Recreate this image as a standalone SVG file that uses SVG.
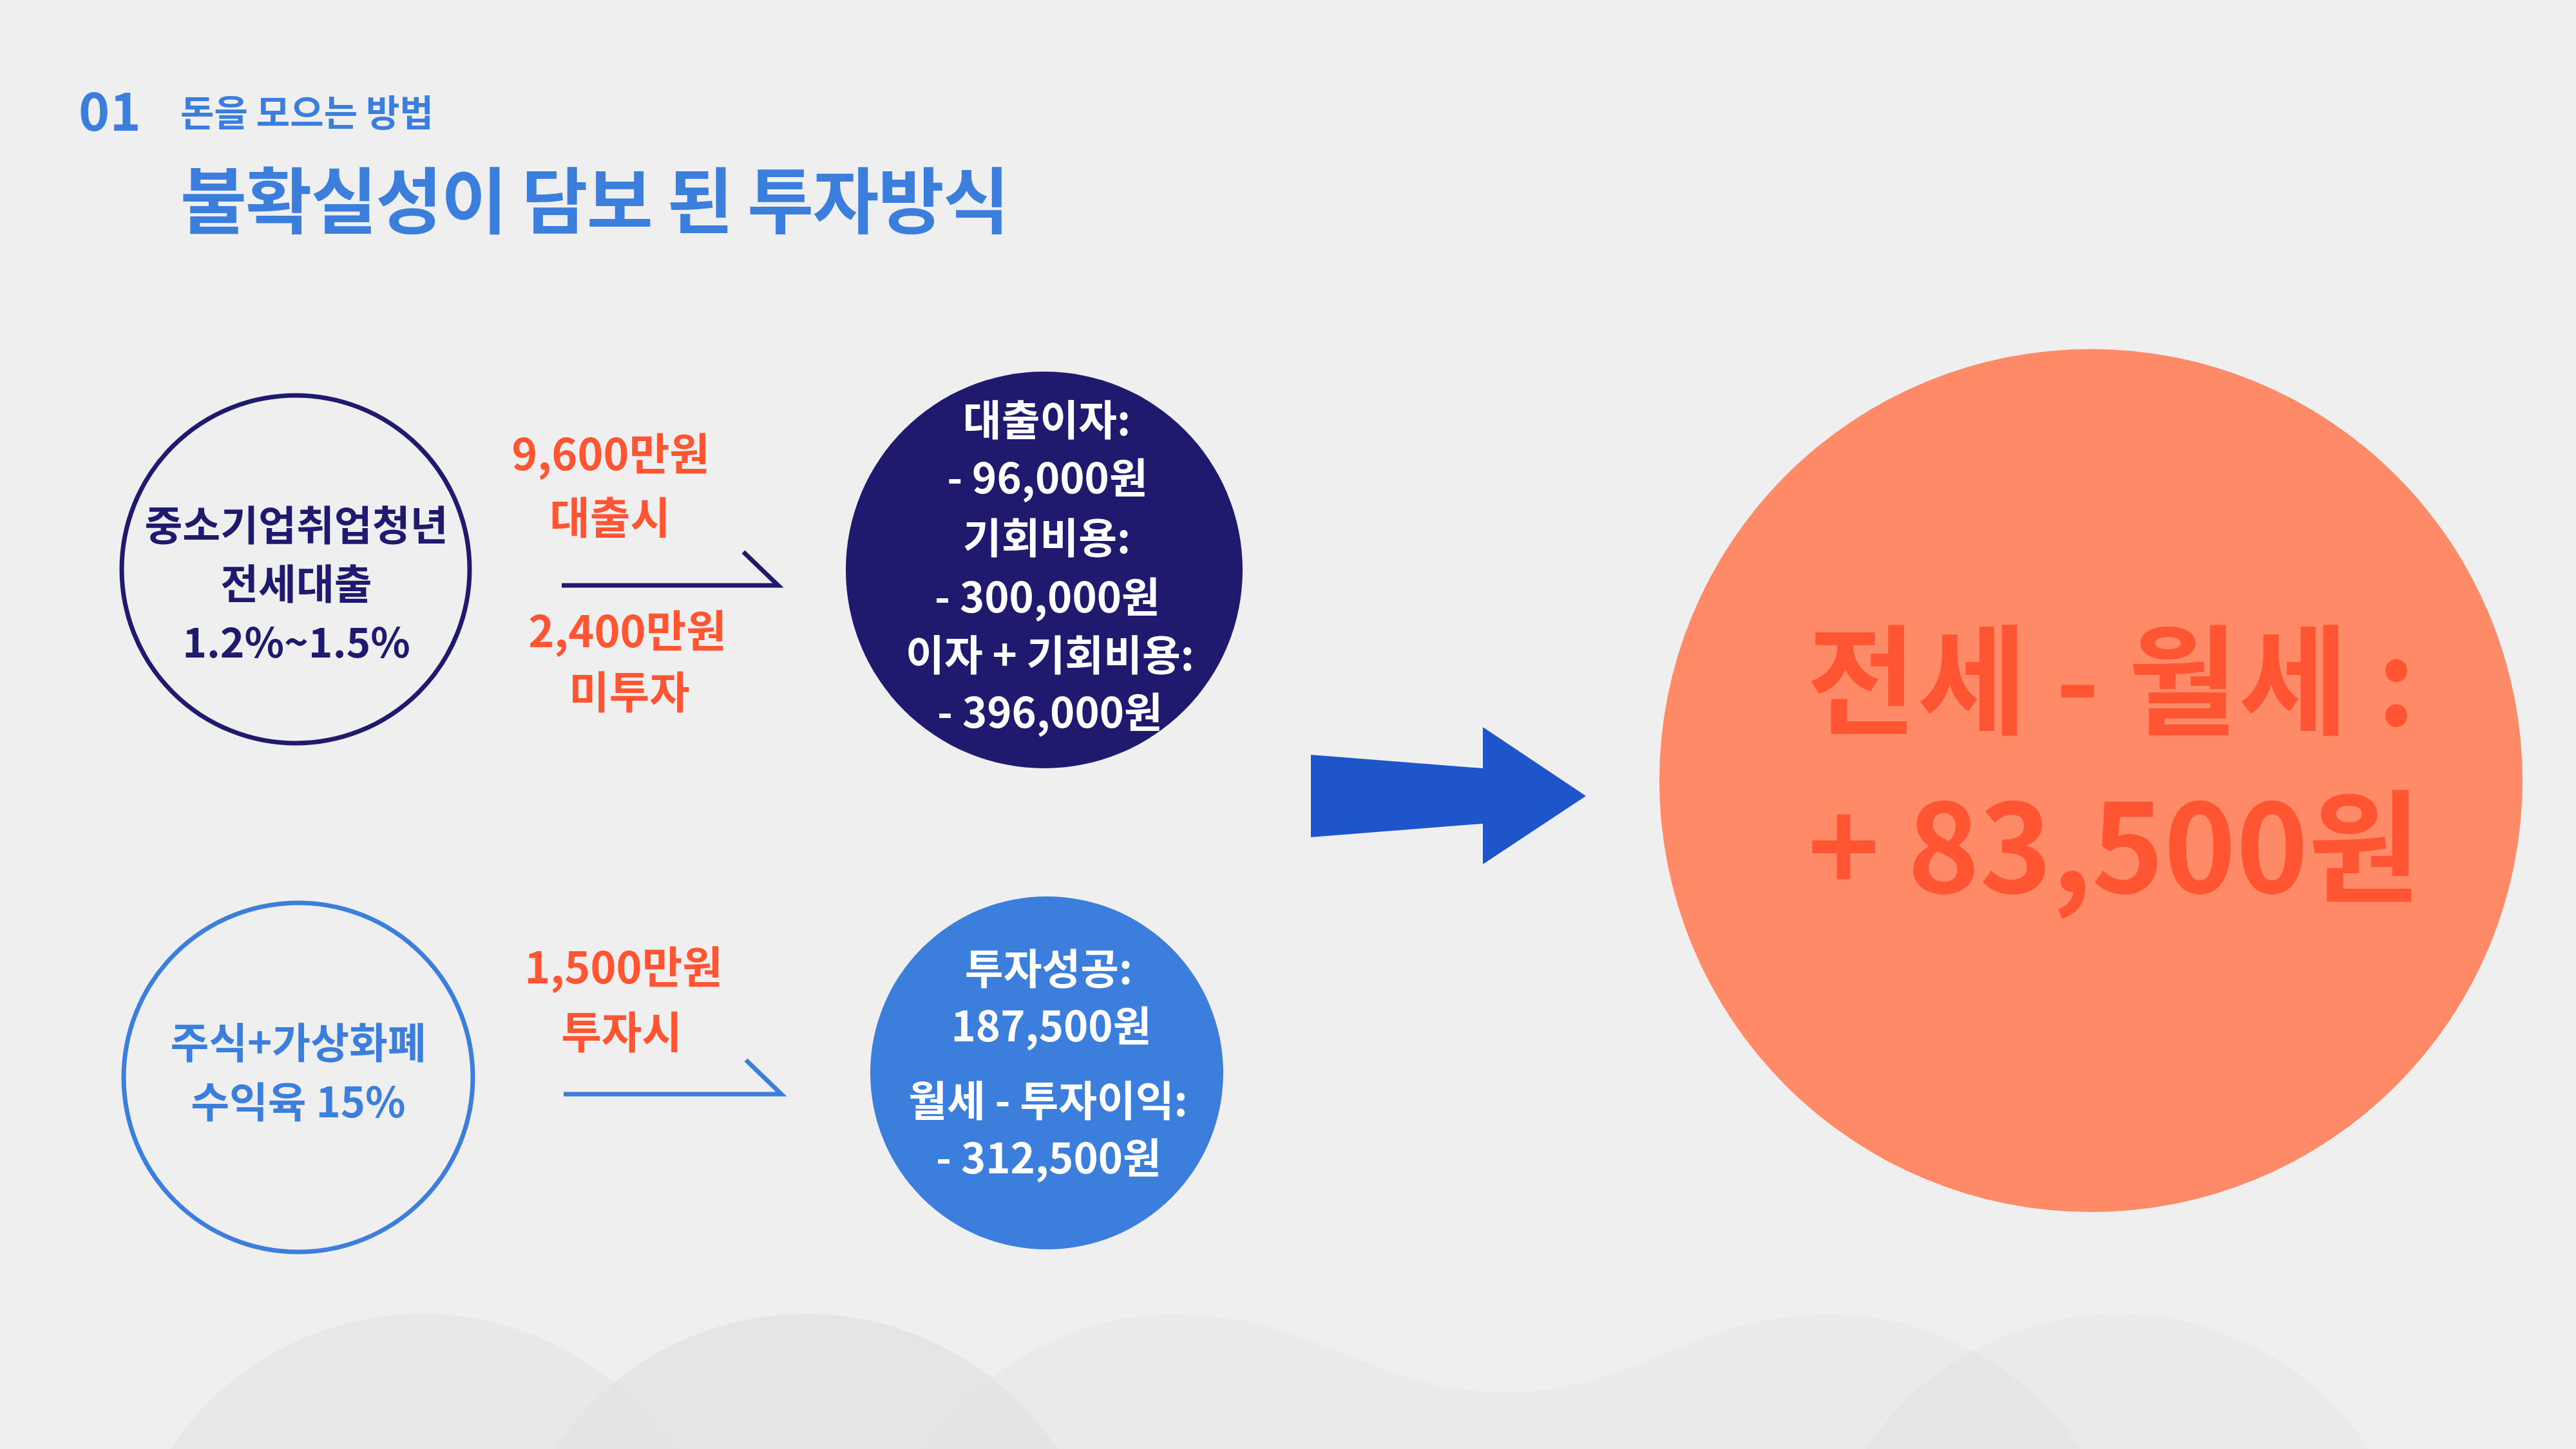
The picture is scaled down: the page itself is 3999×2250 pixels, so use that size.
<svg xmlns="http://www.w3.org/2000/svg" width="3999" height="2250" viewBox="0 0 3999 2250">
<style>
.t{font-family:'Noto Sans CJK KR','Noto Sans',sans-serif;font-weight:700;text-anchor:middle}
.blue{fill:#3C7EDC}
.navy{fill:#1F1A6E}
.white{fill:#FFFFFF}
.orange{fill:#FF5533}
.lbl{font-size:68px}
.in{font-size:65px}
</style>
<rect x="0" y="0" width="3999" height="2250" fill="#EFEFEF"/>
<g id="background-hills">
  <circle cx="655" cy="2508" r="468" fill="#E8E8E8"/>
  <path d="M1358 2508 A468 468 0 0 1 1826 2041 C2040 2041 2130 2162 2336 2162 C2540 2162 2630 2041 2840 2041 A468 468 0 0 1 3308 2508 Z" fill="#EAEAEA"/>
  <circle cx="3287" cy="2508" r="468" fill="#000000" fill-opacity="0.02"/>
  <circle cx="1251" cy="2508" r="468" fill="#E4E4E4" fill-opacity="0.95"/>
</g>
<g id="header">
  <text class="t blue" x="122" y="203" style="text-anchor:start;font-size:82px">01</text>
  <text class="t blue" x="280" y="196" style="text-anchor:start;font-size:57px">돈을 모으는 방법</text>
  <text class="t blue" x="280" y="354" style="text-anchor:start;font-size:112px" textLength="1287" lengthAdjust="spacing">불확실성이 담보 된 투자방식</text>
</g>
<g id="node-loan">
  <circle cx="459" cy="884" r="270" fill="none" stroke="#1F1A6E" stroke-width="7"/>
  <text class="t navy" x="460" y="839" style="font-size:64px">중소기업취업청년</text>
  <text class="t navy" x="460" y="930" style="font-size:64px">전세대출</text>
  <text class="t navy" x="460" y="1021" style="font-size:64px">1.2%~1.5%</text>
</g>
<g id="node-loan-cost">
  <circle cx="1621" cy="885" r="308" fill="#1F1A6E"/>
  <text class="t white in" x="1625" y="676">대출이자:</text>
  <text class="t white in" x="1626" y="766">- 96,000원</text>
  <text class="t white in" x="1625" y="859">기회비용:</text>
  <text class="t white in" x="1626" y="951">- 300,000원</text>
  <text class="t white in" x="1630" y="1041">이자 + 기회비용:</text>
  <text class="t white in" x="1630" y="1130">- 396,000원</text>
</g>
<g id="node-invest">
  <circle cx="463" cy="1673" r="271" fill="none" stroke="#3C7EDC" stroke-width="7"/>
  <text class="t blue in" x="463" y="1643">주식+가상화폐</text>
  <text class="t blue in" x="463" y="1735">수익육 15%</text>
</g>
<g id="node-invest-result">
  <circle cx="1625" cy="1666" r="274" fill="#3C7EDC"/>
  <text class="t white in" x="1628" y="1528">투자성공:</text>
  <text class="t white in" x="1632" y="1617">187,500원</text>
  <text class="t white in" x="1627" y="1733">월세 - 투자이익:</text>
  <text class="t white in" x="1628" y="1822">- 312,500원</text>
</g>
<g id="node-result">
  <circle cx="3246" cy="1212" r="670" fill="#FF8A68"/>
  <text class="t orange" x="2805" y="1126" style="text-anchor:start;font-size:185px" textLength="945" lengthAdjust="spacing">전세 - 월세 :</text>
  <text class="t orange" x="2806" y="1386" style="text-anchor:start;font-size:190px" textLength="952" lengthAdjust="spacing">+ 83,500원</text>
</g>
<g id="connectors">
  <g id="edge-loan">
    <polyline points="872,909 1208,909 1154,857" fill="none" stroke="#1F1A6E" stroke-width="7" stroke-linejoin="miter"/>
    <text class="t orange lbl" x="948" y="730">9,600만원</text>
    <text class="t orange lbl" x="947" y="829">대출시</text>
    <text class="t orange lbl" x="974" y="1005">2,400만원</text>
    <text class="t orange lbl" x="977" y="1100">미투자</text>
  </g>
  <g id="edge-invest">
    <polyline points="875,1699 1213,1699 1158,1646" fill="none" stroke="#3C7EDC" stroke-width="7" stroke-linejoin="miter"/>
    <text class="t orange lbl" x="968" y="1527">1,500만원</text>
    <text class="t orange lbl" x="965" y="1628">투자시</text>
  </g>
  <polygon id="edge-to-result" points="2035,1172 2302,1193 2302,1129 2462,1236 2302,1342 2302,1279 2035,1300" fill="#1F55CB"/>
</g>
</svg>
